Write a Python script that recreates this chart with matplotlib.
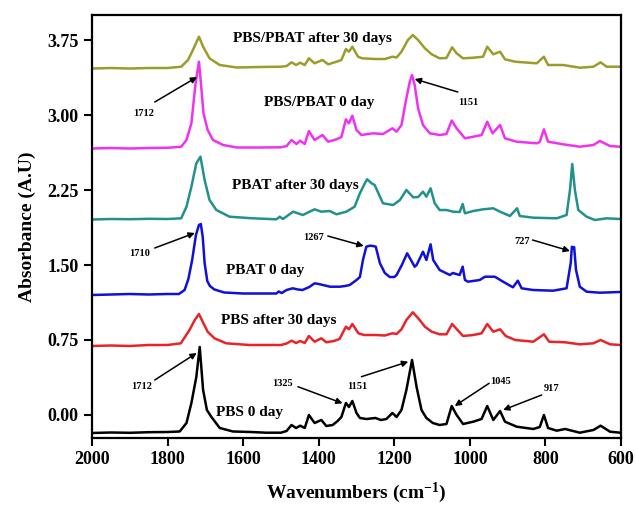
import matplotlib
matplotlib.use("Agg")
import matplotlib.pyplot as plt

plt.rcParams['font.family'] = ['Liberation Serif', 'DejaVu Serif']
plt.rcParams['font.weight'] = 'bold'
plt.rcParams['mathtext.fontset'] = 'custom'
plt.rcParams['mathtext.rm'] = 'Liberation Serif:bold'
plt.rcParams['mathtext.default'] = 'rm'

# --- spectra (wavenumber, absorbance) ---
wn_pbs0 = [2000, 1950, 1900, 1850, 1800, 1768, 1750, 1737, 1724, 1715, 1706, 1696, 1684, 1662, 1627,
           1580, 1540, 1500, 1485, 1472, 1460, 1449, 1437, 1426, 1411, 1393, 1380, 1363, 1350, 1340,
           1328, 1320, 1311, 1300, 1291, 1274, 1250, 1235, 1221, 1205, 1194, 1181, 1168, 1153, 1141,
           1128, 1115, 1098, 1080, 1062, 1048, 1035, 1018, 991, 969, 954, 938, 920, 907, 876, 832,
           815, 804, 793, 770, 748, 709, 673, 654, 629, 602]
ab_pbs0 = [-0.18, -0.175, -0.178, -0.172, -0.17, -0.165, -0.08, 0.12, 0.38, 0.68, 0.25, 0.05, -0.02,
           -0.13, -0.165, -0.17, -0.177, -0.177, -0.16, -0.10, -0.13, -0.107, -0.13, 0.0, -0.08, -0.05,
           -0.11, -0.10, -0.06, -0.02, 0.12, 0.08, 0.14, 0.02, -0.03, -0.04, -0.03, -0.05, -0.04, 0.02,
           -0.02, 0.05, 0.25, 0.55, 0.28, 0.05, -0.03, -0.08, -0.10, -0.09, 0.09, 0.0, -0.09, -0.067,
           -0.04, 0.09, -0.05, 0.04, -0.067, -0.117, -0.14, -0.12, 0.0, -0.13, -0.157, -0.14, -0.177,
           -0.15, -0.107, -0.167, -0.177]

wn_pbs30 = [2000, 1950, 1900, 1850, 1800, 1765, 1742, 1728, 1717, 1705, 1694, 1676, 1645, 1583, 1530,
            1500, 1485, 1472, 1460, 1449, 1437, 1426, 1411, 1393, 1380, 1360, 1345, 1328, 1320, 1311,
            1295, 1280, 1250, 1225, 1205, 1194, 1181, 1168, 1151, 1137, 1119, 1101, 1080, 1062, 1047,
            1035, 1018, 991, 969, 954, 938, 920, 905, 880, 832, 804, 790, 748, 709, 673, 654, 629, 602]
ab_pbs30 = [0.69, 0.695, 0.69, 0.70, 0.70, 0.717, 0.85, 0.95, 1.01, 0.917, 0.833, 0.767, 0.717, 0.70,
            0.70, 0.70, 0.715, 0.743, 0.72, 0.74, 0.72, 0.79, 0.733, 0.767, 0.727, 0.74, 0.76, 0.883,
            0.857, 0.91, 0.817, 0.80, 0.80, 0.795, 0.817, 0.81, 0.857, 0.95, 1.027, 0.97, 0.883, 0.833,
            0.807, 0.807, 0.91, 0.86, 0.79, 0.80, 0.817, 0.91, 0.833, 0.857, 0.79, 0.75, 0.733, 0.807,
            0.733, 0.727, 0.707, 0.717, 0.75, 0.707, 0.70]

wn_pbat0 = [2000, 1950, 1900, 1850, 1800, 1770, 1755, 1745, 1735, 1725, 1717, 1712, 1707, 1702, 1695,
            1688, 1676, 1650, 1600, 1550, 1512, 1506, 1498, 1485, 1469, 1455, 1443, 1425, 1411, 1400,
            1389, 1370, 1344, 1330, 1318, 1300, 1291, 1283, 1274, 1265, 1256, 1249, 1238, 1225, 1212,
            1200, 1194, 1180, 1166, 1146, 1141, 1124, 1115, 1104, 1097, 1080, 1053, 1045, 1027, 1019,
            1013, 1005, 974, 960, 934, 912, 886, 873, 863, 833, 780, 744, 733, 730, 727, 724, 719, 709,
            691, 656, 603]
ab_pbat0 = [1.20, 1.205, 1.21, 1.205, 1.21, 1.21, 1.25, 1.36, 1.55, 1.80, 1.90, 1.91, 1.78, 1.52, 1.34,
            1.29, 1.255, 1.225, 1.215, 1.215, 1.215, 1.235, 1.22, 1.25, 1.267, 1.255, 1.25, 1.28, 1.317,
            1.31, 1.30, 1.283, 1.283, 1.29, 1.30, 1.35, 1.38, 1.55, 1.683, 1.693, 1.69, 1.683, 1.517,
            1.42, 1.38, 1.38, 1.40, 1.50, 1.617, 1.483, 1.50, 1.633, 1.55, 1.707, 1.55, 1.45, 1.40, 1.42,
            1.40, 1.483, 1.35, 1.333, 1.35, 1.383, 1.383, 1.333, 1.277, 1.343, 1.267, 1.25, 1.243,
            1.267, 1.52, 1.683, 1.67, 1.68, 1.45, 1.283, 1.233, 1.223, 1.23]

wn_pbat30 = [2000, 1950, 1900, 1850, 1800, 1764, 1750, 1737, 1724, 1713, 1702, 1689, 1671, 1636, 1575,
             1530, 1512, 1503, 1495, 1480, 1468, 1442, 1411, 1393, 1371, 1353, 1327, 1305, 1291, 1278,
             1272, 1260, 1252, 1240, 1230, 1203, 1185, 1168, 1150, 1137, 1124, 1115, 1104, 1093, 1080,
             1062, 1044, 1027, 1019, 1013, 991, 965, 938, 920, 894, 875, 868, 832, 770, 744, 735, 729,
             722, 713, 691, 669, 638, 603]
ab_pbat30 = [1.955, 1.96, 1.958, 1.962, 1.96, 1.967, 2.083, 2.283, 2.517, 2.583, 2.35, 2.15, 2.05, 1.983,
             1.967, 1.96, 1.957, 1.983, 1.96, 2.00, 2.033, 2.0, 2.057, 2.033, 2.04, 2.007, 2.033, 2.083,
             2.217, 2.317, 2.357, 2.317, 2.30, 2.20, 2.117, 2.10, 2.15, 2.25, 2.177, 2.18, 2.233, 2.183,
             2.267, 2.117, 2.05, 2.05, 2.033, 2.03, 2.11, 2.017, 2.04, 2.057, 2.067, 2.033, 1.99, 2.067,
             1.99, 1.973, 1.967, 2.0, 2.25, 2.51, 2.25, 2.05, 1.983, 1.95, 1.967, 1.96]

wn_blend0 = [2000, 1950, 1900, 1850, 1800, 1764, 1750, 1737, 1726, 1717, 1711, 1705, 1694, 1680, 1653,
             1616, 1560, 1500, 1485, 1472, 1459, 1449, 1437, 1426, 1411, 1390, 1375, 1353, 1340, 1328,
             1320, 1311, 1300, 1287, 1256, 1230, 1205, 1194, 1181, 1168, 1159, 1153, 1146, 1137, 1124,
             1106, 1080, 1062, 1048, 1035, 1013, 991, 969, 954, 940, 920, 907, 876, 823, 815, 804, 793,
             753, 709, 673, 656, 629, 603]
ab_blend0 = [2.665, 2.67, 2.665, 2.67, 2.672, 2.683, 2.75, 2.917, 3.317, 3.533, 3.283, 3.017, 2.85, 2.75,
             2.70, 2.675, 2.675, 2.677, 2.69, 2.75, 2.71, 2.743, 2.71, 2.84, 2.75, 2.80, 2.733, 2.757,
             2.78, 2.957, 2.917, 2.993, 2.85, 2.80, 2.817, 2.81, 2.867, 2.833, 2.90, 3.167, 3.333, 3.40,
             3.30, 3.067, 2.90, 2.817, 2.80, 2.81, 2.945, 2.867, 2.767, 2.783, 2.80, 2.933, 2.817, 2.90,
             2.767, 2.733, 2.717, 2.73, 2.857, 2.733, 2.707, 2.683, 2.70, 2.74, 2.69, 2.683]

wn_blend30 = [2000, 1950, 1900, 1850, 1800, 1764, 1746, 1733, 1717, 1706, 1689, 1662, 1616, 1560, 1500,
              1485, 1472, 1460, 1449, 1437, 1426, 1411, 1390, 1375, 1353, 1340, 1328, 1320, 1311, 1296,
              1285, 1250, 1225, 1205, 1194, 1181, 1164, 1151, 1137, 1119, 1101, 1080, 1062, 1047, 1035,
              1018, 991, 965, 954, 938, 920, 907, 880, 823, 804, 793, 753, 709, 673, 654, 638, 603]
ab_blend30 = [3.465, 3.47, 3.465, 3.47, 3.47, 3.483, 3.55, 3.65, 3.783, 3.683, 3.567, 3.50, 3.475, 3.48,
              3.483, 3.49, 3.527, 3.50, 3.523, 3.50, 3.567, 3.517, 3.55, 3.507, 3.533, 3.55, 3.66, 3.633,
              3.683, 3.583, 3.567, 3.56, 3.56, 3.583, 3.575, 3.633, 3.75, 3.80, 3.75, 3.667, 3.607, 3.567,
              3.57, 3.677, 3.617, 3.567, 3.573, 3.583, 3.683, 3.607, 3.633, 3.557, 3.533, 3.517, 3.583,
              3.50, 3.50, 3.473, 3.483, 3.527, 3.483, 3.483]

series_names = ['PBS 0 day', 'PBS after 30 days', 'PBAT 0 day', 'PBAT after 30 days',
                'PBS/PBAT 0 day', 'PBS/PBAT after 30 days']
colors = ['black', '#e8242a', '#1010d8', '#22918c', '#f032f0', '#9c9c2c']
label_pos = [(1583, 0.02), (1506, 0.95), (1543, 1.45), (1463, 2.30), (1400, 3.13), (1416, 3.77)]

# peak labels: text, text position, arrow tail, arrow head
peak_text = ['1712', '1151', '1710', '1267', '727', '1712', '1325', '1151', '1045', '917']
peak_text_xy = [(1864, 3.02), (1005, 3.13), (1874, 1.62), (1415, 1.78), (862, 1.74),
                (1869, 0.28), (1496, 0.31), (1297, 0.283), (918, 0.33), (784, 0.267)]
peak_tail = [(1834, 3.13), (1032, 3.23), (1834, 1.67), (1376, 1.79), (834, 1.75),
             (1834, 0.35), (1455, 0.283), (1287, 0.383), (949, 0.317), (810, 0.20)]
peak_head = [(1722, 3.38), (1146, 3.36), (1728, 1.82), (1281, 1.69), (735, 1.64),
             (1723, 0.62), (1337, 0.117), (1163, 0.533), (1040, 0.09), (912, 0.05)]

spectra = [(wn_pbs0, ab_pbs0), (wn_pbs30, ab_pbs30), (wn_pbat0, ab_pbat0),
           (wn_pbat30, ab_pbat30), (wn_blend0, ab_blend0), (wn_blend30, ab_blend30)]

fig = plt.figure(figsize=(6.36, 5.09), dpi=100)
ax = fig.add_axes([0.1447, 0.1395, 0.8317, 0.831])

for (wn, ab), c, name, pos in zip(spectra, colors, series_names, label_pos):
    ax.plot(wn, ab, color=c, linewidth=1.8, solid_joinstyle='round')
    ax.text(pos[0], pos[1], name, fontsize=11, fontweight='bold', ha='center', va='center')

for t, txy, tail, head in zip(peak_text, peak_text_xy, peak_tail, peak_head):
    ax.text(txy[0], txy[1], t, fontsize=7.5, fontweight='bold', ha='center', va='center')
    ax.annotate('', xy=head, xytext=tail,
                arrowprops=dict(arrowstyle='-|>', color='black', lw=1.1,
                                mutation_scale=9, shrinkA=0, shrinkB=0))

ax.set_xlim(2000, 600)
ax.set_ylim(-0.23, 4.0)
ax.set_xticks([2000, 1800, 1600, 1400, 1200, 1000, 800, 600])
ax.set_yticks([0.00, 0.75, 1.50, 2.25, 3.00, 3.75])
ax.set_yticklabels(['0.00', '0.75', '1.50', '2.25', '3.00', '3.75'])
ax.tick_params(axis='both', direction='out', length=6, width=1.5, labelsize=13)
for lab in ax.get_xticklabels() + ax.get_yticklabels():
    lab.set_fontweight('bold')
for sp in ax.spines.values():
    sp.set_linewidth(1.6)

ax.set_xlabel(r'Wavenumbers (cm$^{-1}$)', fontsize=14, fontweight='bold', labelpad=9)
ax.set_ylabel('Absorbance (A.U)', fontsize=14, fontweight='bold', labelpad=8)

fig.savefig('out.png', dpi=100)
